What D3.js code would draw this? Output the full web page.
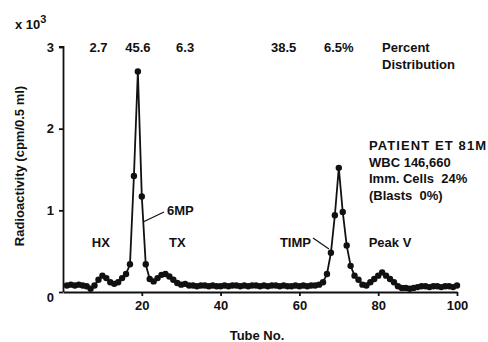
<!DOCTYPE html>
<html>
<head>
<meta charset="utf-8">
<script src="https://cdn.jsdelivr.net/npm/d3@7"></script>
<style>
  body { margin: 0; background: #fff; }
  svg { font-family: "Liberation Sans", Arial, sans-serif; font-weight: bold; fill: #111; }
</style>
</head>
<body>
<svg id="chart" width="488" height="342"></svg>
<script>
// radioactivity per tube (x 10^3 cpm/0.5 ml), tubes 1..100
var tubes = d3.range(1, 101)
var counts = [
  0.08, 0.09, 0.08, 0.09, 0.08, 0.07, 0.04, 0.08, 0.15, 0.20,
  0.17, 0.12, 0.10, 0.12, 0.17, 0.22, 0.34, 1.42, 2.70, 1.17,
  0.34, 0.16, 0.13, 0.17, 0.21, 0.22, 0.19, 0.15, 0.11, 0.09,
  0.10, 0.08, 0.08, 0.07, 0.08, 0.08, 0.07, 0.08, 0.07, 0.07,
  0.08, 0.07, 0.08, 0.08, 0.07, 0.08, 0.07, 0.08, 0.08, 0.07,
  0.08, 0.07, 0.08, 0.08, 0.07, 0.08, 0.07, 0.07, 0.08, 0.07,
  0.08, 0.07, 0.08, 0.08, 0.09, 0.12, 0.22, 0.48, 0.94, 1.52,
  0.98, 0.57, 0.32, 0.20, 0.15, 0.09, 0.08, 0.12, 0.16, 0.20,
  0.24, 0.20, 0.16, 0.12, 0.07, 0.05, 0.05, 0.04, 0.05, 0.06,
  0.07, 0.07, 0.06, 0.07, 0.07, 0.06, 0.07, 0.07, 0.06, 0.08
]
var xTicks = [20, 40, 60, 80, 100]
var yTicks = [0, 1, 2, 3]

// peak annotations
var peakNames = ["HX", "TX", "TIMP", "Peak V"]
var peakTubes = [9.6, 29, 59, 83]
var percents = ["2.7", "45.6", "6.3", "38.5", "6.5%"]
var percentTubes = [9, 19, 31, 56, 70]
var patientInfo = ["PATIENT ET 81M", "WBC 146,660", "Imm. Cells  24%", "(Blasts  0%)"]

var data = tubes.map((t, i) => ({ tube: t, value: counts[i] }))

var svg = d3.select("#chart")
var x = d3.scaleLinear().domain([0, 100]).range([63, 457])
var y = d3.scaleLinear().domain([0, 3]).range([292, 47])

// axes
var yAxis = svg.append("g")
  .attr("transform", "translate(" + x(0) + ",0)")
  .call(d3.axisLeft(y).tickValues(yTicks).tickFormat(d3.format("d")).tickSize(4).tickPadding(5))
var xAxis = svg.append("g")
  .attr("transform", "translate(0," + y(0) + ")")
  .call(d3.axisBottom(x).tickValues(xTicks).tickSize(4).tickPadding(5).tickSizeOuter(0))
yAxis.select(".domain").attr("d", "M-4," + y(3) + "H0.5V" + y(0))
svg.selectAll(".domain, .tick line").attr("stroke", "#111").attr("stroke-width", 1.8)
svg.selectAll(".tick text")
  .attr("font-family", "Liberation Sans, Arial, sans-serif")
  .attr("font-weight", "bold")
  .attr("font-size", 13)
  .attr("fill", "#111")
yAxis.selectAll(".tick").filter(d => d == 0).select("text").attr("dy", "0.75em")

// elution profile
var line = d3.line().x(d => x(d.tube)).y(d => y(d.value))
svg.append("path")
  .datum(data)
  .attr("fill", "none")
  .attr("stroke", "#111")
  .attr("stroke-width", 1.8)
  .attr("d", line)
svg.append("g")
  .selectAll("circle")
  .data(data).enter().append("circle")
  .attr("cx", d => x(d.tube))
  .attr("cy", d => y(d.value))
  .attr("r", 3.2)
  .attr("fill", "#111")

// labels
svg.append("g").selectAll("text")
  .data(percents).enter().append("text")
  .attr("x", (d, i) => x(percentTubes[i]))
  .attr("y", 52)
  .attr("text-anchor", "middle")
  .attr("font-size", 13)
  .text(d => d)
svg.append("text").attr("x", 382).attr("y", 52).attr("font-size", 13).text("Percent")
svg.append("text").attr("x", 382).attr("y", 69).attr("font-size", 13).text("Distribution")

svg.append("g").selectAll("text")
  .data(peakNames).enter().append("text")
  .attr("x", (d, i) => x(peakTubes[i]))
  .attr("y", 247)
  .attr("text-anchor", "middle")
  .attr("font-size", 13)
  .text(d => d)

svg.append("text").attr("x", 167).attr("y", 215).attr("font-size", 13).text("6MP")
svg.append("line").attr("x1", 143).attr("y1", 222).attr("x2", 164).attr("y2", 212)
  .attr("stroke", "#111").attr("stroke-width", 1.2)
svg.append("line").attr("x1", 313).attr("y1", 238).attr("x2", 329).attr("y2", 249)
  .attr("stroke", "#111").attr("stroke-width", 1.2)

svg.append("g").selectAll("text")
  .data(patientInfo).enter().append("text")
  .attr("x", 369)
  .attr("y", (d, i) => 150 + i * 16.5)
  .attr("font-size", 13)
  .attr("letter-spacing", (d, i) => i == 0 ? 1.1 : 0)
  .attr("xml:space", "preserve")
  .style("white-space", "pre")
  .text(d => d)

// scale factor and axis titles
var mult = svg.append("text").attr("x", 15).attr("y", 29).attr("font-size", 13)
mult.append("tspan").text("x 10")
mult.append("tspan").attr("dy", -6).attr("font-size", 11).text("3")

svg.append("text")
  .attr("transform", "translate(24,166) rotate(-90)")
  .attr("text-anchor", "middle")
  .attr("font-size", 13)
  .text("Radioactivity (cpm/0.5 ml)")
svg.append("text")
  .attr("x", 257).attr("y", 340)
  .attr("text-anchor", "middle")
  .attr("font-size", 13)
  .text("Tube No.")
</script>
</body>
</html>
